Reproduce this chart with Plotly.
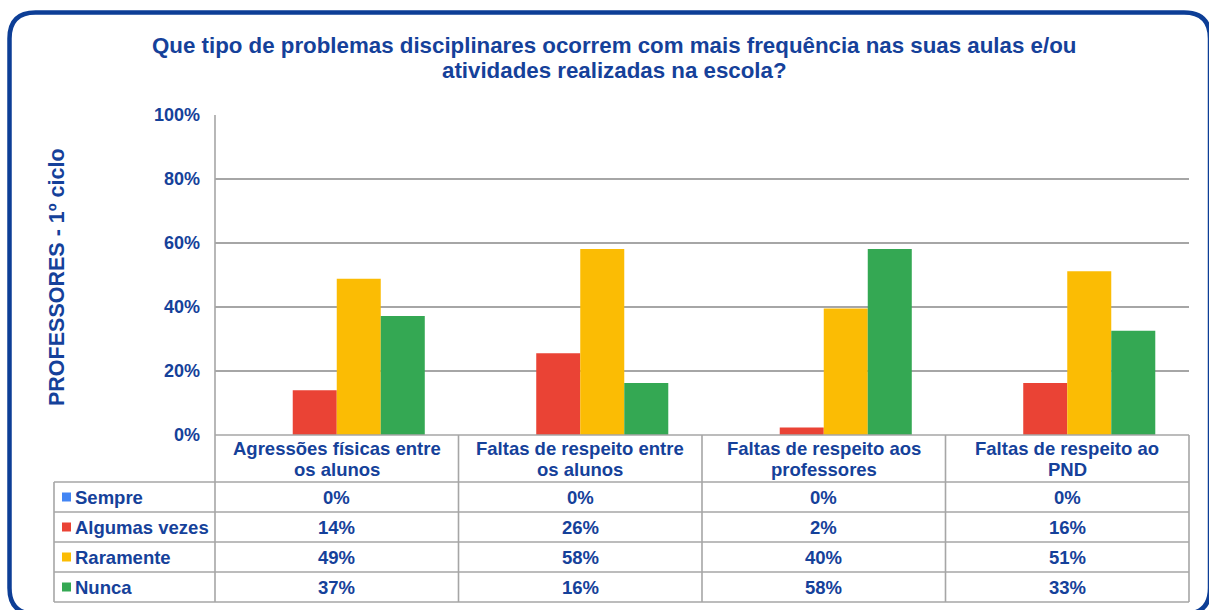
import plotly.graph_objects as go

# ---- data ----
categories = [
    "Agressões físicas entre<br>os alunos",
    "Faltas de respeito entre<br>os alunos",
    "Faltas de respeito aos<br>professores",
    "Faltas de respeito ao<br>PND",
]
series_names = ["Sempre", "Algumas vezes", "Raramente", "Nunca"]
sempre = [0.0, 0.0, 0.0, 0.0]
algumas_vezes = [13.95, 25.58, 2.33, 16.28]
raramente = [48.84, 58.14, 39.53, 51.16]
nunca = [37.21, 16.28, 58.14, 32.56]
series_values = [sempre, algumas_vezes, raramente, nunca]
series_colors = ["#4285F4", "#EA4335", "#FBBC04", "#34A853"]
y_ticks = [0, 20, 40, 60, 80, 100]
title_lines = ["Que tipo de problemas disciplinares ocorrem com mais frequência nas suas aulas e/ou",
               "atividades realizadas na escola?"]
y_title = "PROFESSORES - 1º ciclo"

# ---- layout geometry (pixels) ----
W, H = 1209, 610
PL, PR, PT, PB = 215, 1189, 115, 435
TXT = "#15419A"
GRID = "#A6A6A6"
FONT = "Liberation Sans, Arial, sans-serif"
TS = 18.5  # table font size


def X(px):
    return (px - PL) / (PR - PL)


def Y(py):
    return (PB - py) / (PB - PT)


def bold(size):
    return dict(family=FONT, size=size, color=TXT, weight="bold")


fig = go.Figure()
for name, vals, col in zip(series_names, series_values, series_colors):
    fig.add_trace(go.Bar(x=categories, y=vals, name=name, marker=dict(color=col, line=dict(width=0)),
                         showlegend=False))

shapes = []
annotations = []

# frame with rounded corners
r = 26
x0, x1, y0, y1 = 9.5, 1210, 12.5, 614
path = (f"M {X(x0)},{Y(y0 + r)} Q {X(x0)},{Y(y0)} {X(x0 + r)},{Y(y0)} "
        f"L {X(x1 - r)},{Y(y0)} Q {X(x1)},{Y(y0)} {X(x1)},{Y(y0 + r)} "
        f"L {X(x1)},{Y(y1 - r)} Q {X(x1)},{Y(y1)} {X(x1 - r)},{Y(y1)} "
        f"L {X(x0 + r)},{Y(y1)} Q {X(x0)},{Y(y1)} {X(x0)},{Y(y1 - r)} Z")
shapes.append(dict(type="path", xref="paper", yref="paper", path=path,
                   line=dict(color="#0D3E96", width=4.5), fillcolor="rgba(0,0,0,0)", layer="below"))

# table lines
row_edges = [482, 512, 542, 572, 602]
col_w = (PR - PL) / len(categories)
col_edges = [PL + i * col_w for i in range(len(categories) + 1)]
LW = 1.6
shapes.append(dict(type="line", xref="paper", yref="paper", x0=X(PL), x1=X(PR), y0=Y(PB), y1=Y(PB),
                   line=dict(color=GRID, width=LW)))
for ry in row_edges:
    shapes.append(dict(type="line", xref="paper", yref="paper", x0=X(54), x1=X(PR), y0=Y(ry), y1=Y(ry),
                       line=dict(color=GRID, width=LW)))
shapes.append(dict(type="line", xref="paper", yref="paper", x0=X(54), x1=X(54), y0=Y(482), y1=Y(602),
                   line=dict(color=GRID, width=LW)))
shapes.append(dict(type="line", xref="paper", yref="paper", x0=X(PL), x1=X(PL), y0=Y(PT), y1=Y(602),
                   line=dict(color=GRID, width=LW)))
for cx in col_edges[1:]:
    shapes.append(dict(type="line", xref="paper", yref="paper", x0=X(cx), x1=X(cx), y0=Y(PB), y1=Y(602),
                       line=dict(color=GRID, width=LW)))

# table text: row labels with colour keys, values
for i, (name, vals, col) in enumerate(zip(series_names, series_values, series_colors)):
    top, bot = row_edges[i], row_edges[i + 1]
    cy = (top + bot) / 2
    shapes.append(dict(type="rect", xref="paper", yref="paper", x0=X(62), x1=X(71), y0=Y(cy - 4.5),
                       y1=Y(cy + 4.5), line=dict(width=0), fillcolor=col))
    annotations.append(dict(text=name, xref="paper", yref="paper", x=X(72.5), y=Y(cy), xanchor="left",
                            yanchor="middle", showarrow=False, font=bold(TS)))
    for cat, v in zip(categories, vals):
        annotations.append(dict(text=f"{round(v)}%", xref="x", yref="paper", x=cat, y=Y(cy),
                                xanchor="center", yanchor="middle", showarrow=False, font=bold(TS)))

# category header labels (two lines each, tight spacing)
for cat in categories:
    for k, line in enumerate(cat.split("<br>")):
        annotations.append(dict(text=line, xref="x", yref="paper", x=cat, y=Y(448 + 21 * k),
                                xanchor="center", yanchor="middle", showarrow=False, font=bold(TS)))

# title (two lines)
for k, line in enumerate(title_lines):
    annotations.append(dict(text=line, xref="paper", yref="paper", x=X(614), y=Y(45 + 25 * k),
                            xanchor="center", yanchor="middle", showarrow=False, font=bold(22.3)))

# y axis title
annotations.append(dict(text=y_title, xref="paper", yref="paper", x=X(57), y=Y(277), textangle=-90,
                        xanchor="center", yanchor="middle", showarrow=False, font=bold(21.5)))

fig.update_layout(
    width=W, height=H,
    margin=dict(l=PL, r=W - PR, t=PT, b=H - PB, pad=0),
    paper_bgcolor="white", plot_bgcolor="white",
    barmode="group", bargap=0.277, bargroupgap=0,
    xaxis=dict(showticklabels=False, showgrid=False, zeroline=False, showline=False, ticks=""),
    yaxis=dict(range=[0, 100], tickvals=y_ticks, ticktext=[f"{t}%" for t in y_ticks],
               showgrid=True, gridcolor=GRID, gridwidth=1.6, zeroline=False, showline=False,
               ticks="", ticklabelstandoff=14, tickfont=bold(18)),
    shapes=shapes, annotations=annotations,
)

fig.write_html("out.html", config={"displayModeBar": False},
               post_script="document.body.style.margin='0px';")
